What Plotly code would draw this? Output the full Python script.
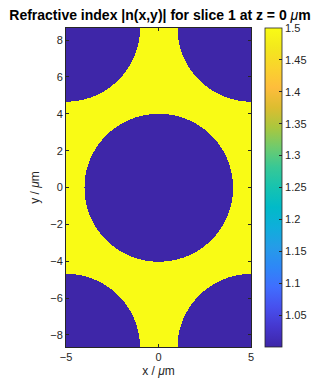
import numpy as np
import plotly.graph_objects as go

# Geometry / values
x_range = [-5.0, 5.0]
y_range = [-8.66, 8.66]
hole_cx = [0.0, -5.0, 5.0, -5.0, 5.0]
hole_cy = [0.0, 8.66, 8.66, -8.66, -8.66]
hole_r = [4.0, 4.0, 4.0, 4.0, 4.0]
n_hole = 1.0
n_background = 1.5
x_ticks = [-5, 0, 5]
y_ticks = [-8, -6, -4, -2, 0, 2, 4, 6, 8]
cb_ticks = [1.05, 1.1, 1.15, 1.2, 1.25, 1.3, 1.35, 1.4, 1.45, 1.5]

xs = np.linspace(x_range[0], x_range[1], 371)
ys = np.linspace(y_range[0], y_range[1], 639)
X, Y = np.meshgrid(xs, ys)
Z = np.full(X.shape, n_background)
for cx, cy, r in zip(hole_cx, hole_cy, hole_r):
    Z[(X - cx) ** 2 + (Y - cy) ** 2 <= r ** 2] = n_hole

parula = [
    [0.000, "rgb(62,38,168)"],
    [0.063, "rgb(69,55,206)"],
    [0.125, "rgb(71,80,238)"],
    [0.188, "rgb(64,110,254)"],
    [0.250, "rgb(46,135,247)"],
    [0.313, "rgb(37,156,232)"],
    [0.375, "rgb(15,174,219)"],
    [0.438, "rgb(1,186,200)"],
    [0.500, "rgb(22,195,176)"],
    [0.563, "rgb(55,200,150)"],
    [0.625, "rgb(110,203,110)"],
    [0.688, "rgb(170,199,62)"],
    [0.750, "rgb(220,189,48)"],
    [0.813, "rgb(254,189,60)"],
    [0.875, "rgb(250,211,45)"],
    [0.938, "rgb(243,232,29)"],
    [1.000, "rgb(249,251,21)"],
]

axcol = "rgb(38,38,38)"
fig = go.Figure(go.Heatmap(
    x=np.round(xs, 4), y=np.round(ys, 4), z=Z, colorscale=parula,
    zmin=n_hole, zmax=n_background,
    zsmooth=False, hoverinfo="skip",
    colorbar=dict(
        x=(265 - 66) / 185, xanchor="left", xref="paper",
        y=0.5, yanchor="middle", len=1, lenmode="fraction",
        thickness=17, outlinewidth=0.8, outlinecolor=axcol,
        tickvals=cb_ticks, ticktext=[f"{t:g}" for t in cb_ticks],
        ticks="inside", ticklen=3, tickcolor=axcol,
        tickfont=dict(size=11, color=axcol), xpad=0, ypad=0,
    ),
))

fig.update_layout(
    width=320, height=392,
    margin=dict(l=66, r=69, t=28, b=45, autoexpand=False),
    paper_bgcolor="white", plot_bgcolor="white",
    font=dict(family="Liberation Sans, Arial, sans-serif", color=axcol),
    title=dict(
        text="<b>Refractive index |n(x,y)| for slice 1 at z = 0 </b><i>μ</i><b>m</b>",
        x=160 / 320, xref="container", xanchor="center", y=1 - 15 / 392, yanchor="middle",
        font=dict(size=14, color="black"), automargin=False,
    ),
    xaxis=dict(
        range=x_range, tickvals=x_ticks, ticks="inside", ticklen=3, tickcolor=axcol,
        showline=True, linecolor=axcol, linewidth=0.8, mirror="ticks",
        showgrid=False, zeroline=False, tickfont=dict(size=11, color=axcol),
        automargin=False,
        title=dict(text="x / <i>μ</i>m", font=dict(size=12, color=axcol), standoff=4),
    ),
    yaxis=dict(
        range=y_range, tickvals=y_ticks, ticks="inside", ticklen=3, tickcolor=axcol,
        showline=True, linecolor=axcol, linewidth=0.8, mirror="ticks",
        showgrid=False, zeroline=False, tickfont=dict(size=11, color=axcol),
        automargin=False,
        title=dict(text="y / <i>μ</i>m", font=dict(size=12, color=axcol), standoff=8),
    ),
)

fig.write_html("out.html", config={"displayModeBar": False},
               post_script="document.body.style.margin='0px';")
